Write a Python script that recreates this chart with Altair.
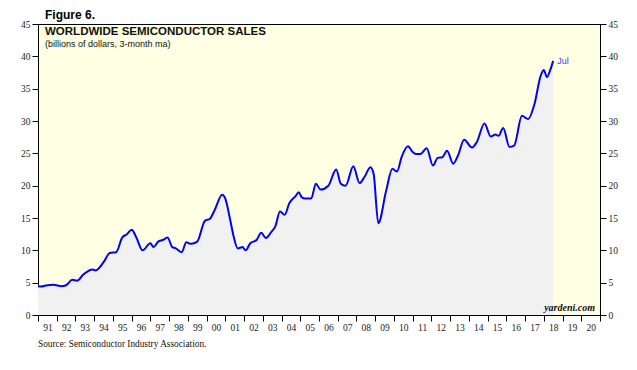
import altair as alt
import pandas as pd

# ---- data (3-month ma, billions of dollars) ----
months = [
    "1991-01", "1991-03", "1991-06", "1991-11", "1992-04", "1992-07", "1992-11",
    "1993-02", "1993-06", "1993-12", "1994-02", "1994-07", "1994-11", "1995-03",
    "1995-07", "1995-10", "1996-01", "1996-04", "1996-08", "1997-01", "1997-03",
    "1997-06", "1997-09", "1997-12", "1998-03", "1998-05", "1998-09", "1998-12",
    "1999-03", "1999-07", "1999-12", "2000-03", "2000-06", "2000-11", "2001-01",
    "2001-04", "2001-06", "2001-09", "2001-12", "2002-02", "2002-05", "2002-09",
    "2002-12", "2003-03", "2003-06", "2003-09", "2003-12", "2004-03", "2004-06",
    "2004-10", "2004-12", "2005-02", "2005-04", "2005-08", "2005-11", "2006-02",
    "2006-07", "2006-12", "2007-03", "2007-06", "2007-11", "2008-03", "2008-06",
    "2008-10", "2008-12", "2009-03", "2009-08", "2009-12", "2010-03", "2010-06",
    "2010-10", "2011-01", "2011-03", "2011-06", "2011-10", "2012-02", "2012-05",
    "2012-08", "2012-11", "2013-03", "2013-06", "2013-10", "2014-03", "2014-06",
    "2014-11", "2015-03", "2015-06", "2015-08", "2015-11", "2016-03", "2016-06",
    "2016-11", "2017-03", "2017-07", "2017-11", "2018-01", "2018-03", "2018-05",
    "2018-07",
]
values = [
    4.45, 4.4, 4.55, 4.67, 4.45, 4.6, 5.44,
    5.3, 6.26, 7.03, 6.9, 8.16, 9.6, 9.7,
    12.0, 12.5, 13.2, 12.0, 10.0, 11.1, 10.5,
    11.35, 11.6, 12.0, 10.5, 10.35, 9.7, 11.25,
    11.0, 11.35, 14.6, 14.85, 16.15, 18.6, 18.0,
    14.85, 12.5, 10.3, 10.5, 10.0, 11.1, 11.6,
    12.7, 11.9, 12.7, 13.7, 16.0, 15.5, 17.3,
    18.4, 19.0, 18.2, 18.0, 18.0, 20.3, 19.4,
    20.0, 22.5, 20.3, 20.0, 23.0, 20.4, 21.3,
    22.85, 21.8, 14.2, 19.2, 22.6, 22.2, 24.5,
    26.1, 25.2, 24.9, 24.9, 25.8, 23.1, 24.3,
    24.4, 25.4, 23.4, 24.65, 27.1, 25.9, 26.7,
    29.6, 27.6, 27.9, 27.7, 28.9, 26.0, 26.2,
    30.8, 30.3, 32.6, 37.0, 37.9, 36.8, 37.8,
    39.3,
]
x_years = list(range(1991, 2022))
y_ticks = list(range(0, 46, 5))
figure_text = "Figure 6."
title_text = "WORLDWIDE SEMICONDUCTOR SALES"
subtitle_text = "(billions of dollars, 3-month ma)"
source_text = "Source: Semiconductor Industry Association."
credit_text = "yardeni.com"
last_label = "Jul"


def to_year(s):
    y, m = s.split("-")
    return int(y) + (int(m) - 1) / 12


df = pd.DataFrame({"t": [to_year(m) for m in months], "v": values})
last = df.tail(1).assign(label=last_label)

W, H = 562, 291
SERIF = "Liberation Serif"
SANS = "Liberation Sans"

x_enc = alt.X(
    "t:Q",
    scale=alt.Scale(domain=[1991, 2021], nice=False, zero=False),
    axis=alt.Axis(
        values=x_years,
        labelExpr="datum.value >= 2021 ? '' : substring(toString(datum.value), 2, 4)",
        labelOffset=9.4, labelFlush=False, labelOverlap=False, labelBound=False,
        tickSize=6, labelPadding=1, grid=False, title=None,
        labelFont=SERIF, labelFontSize=9.5, labelColor="#222",
        domainColor="black", tickColor="black",
    ),
)
y_scale = alt.Scale(domain=[0, 45], nice=False, zero=True)


def y_axis(orient):
    return alt.Axis(
        orient=orient, values=y_ticks, tickSize=6, labelPadding=2, grid=False,
        title=None, labelFont=SERIF, labelFontSize=9.5, labelColor="#222",
        domainColor="black", tickColor="black",
    )


area = alt.Chart(df).mark_area(color="#F1F1F1", interpolate="monotone").encode(
    x=x_enc, y=alt.Y("v:Q", scale=y_scale, axis=y_axis("left"))
)
line = alt.Chart(df).mark_line(color="#0000FF", strokeWidth=2, interpolate="monotone").encode(
    x=x_enc, y=alt.Y("v:Q", scale=y_scale, axis=y_axis("right"))
)
jul = alt.Chart(last).mark_text(
    align="left", baseline="middle", dx=4, font=SANS, fontSize=9, color="#3B3BFF"
).encode(x=x_enc, y=alt.Y("v:Q", scale=y_scale, axis=None), text="label:N")


def note(text, x, y, **kw):
    return alt.Chart(pd.DataFrame({"text": [text]})).mark_text(
        baseline="middle", **kw
    ).encode(x=alt.value(x), y=alt.value(y), text="text:N")


fig = note(figure_text, 7, -9, align="left", font=SANS, fontSize=12, fontWeight="bold", color="black")
ttl = note(title_text, 7, 8, align="left", font=SANS, fontSize=11.5, fontWeight="bold", color="#111")
sub = note(subtitle_text, 7, 20, align="left", font=SANS, fontSize=9, color="#111")
credit = note(credit_text, 557, 284, align="right", font=SERIF, fontSize=10,
              fontStyle="italic", fontWeight="bold", color="#111")
src = note(source_text, 0, 320, align="left", font=SERIF, fontSize=9.3, color="#111")

chart = (
    alt.layer(area, line, jul, fig, ttl, sub, credit, src)
    .resolve_axis(y="independent")
    .properties(
        width=W, height=H,
        padding={"left": 30, "top": 16, "right": 29, "bottom": 50},
        autosize=alt.AutoSizeParams(type="none"),
        background="white",
    )
    .configure_view(fill="#FFFFE3", stroke="black", strokeWidth=1)
)

chart.save("out.html", embed_options={"renderer": "svg", "actions": False})
